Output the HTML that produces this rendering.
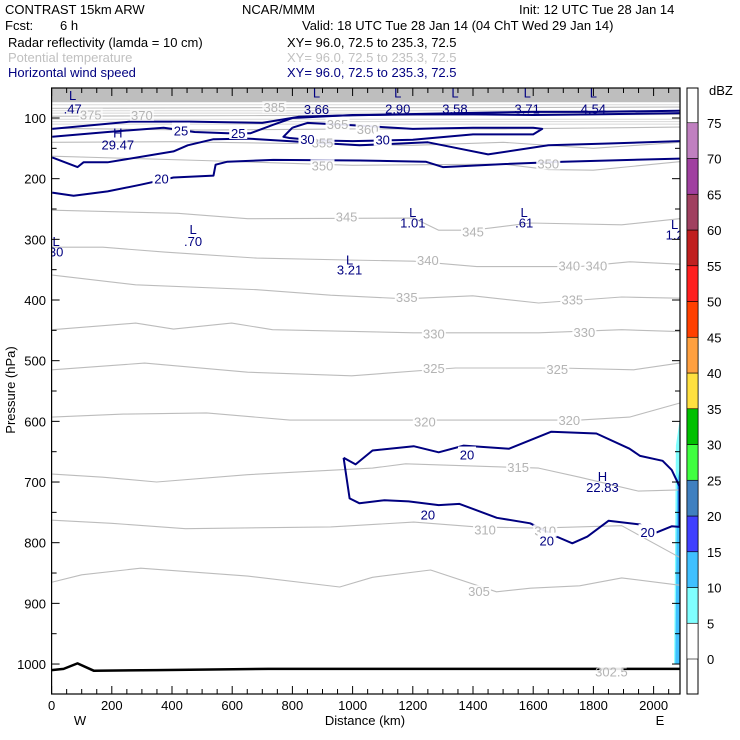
<!DOCTYPE html>
<html><head><meta charset="utf-8"><style>
body{margin:0;background:#fff;}
svg{display:block;font-family:"Liberation Sans",sans-serif;}
</style></head><body>
<svg id="chart" width="740" height="740" viewBox="0 0 740 740" xmlns="http://www.w3.org/2000/svg">
<g font-size="13">
<text x="5" y="14" fill="#000">CONTRAST 15km ARW</text>
<text x="242" y="14" fill="#000">NCAR/MMM</text>
<text x="519" y="14" fill="#000">Init: 12 UTC Tue 28 Jan 14</text>
<text x="5" y="30" fill="#000">Fcst:</text>
<text x="60" y="30" fill="#000">6 h</text>
<text x="302" y="30" fill="#000">Valid: 18 UTC Tue 28 Jan 14 (04 ChT Wed 29 Jan 14)</text>
<text x="8" y="47" fill="#000">Radar reflectivity (lamda = 10 cm)</text>
<text x="287" y="47" fill="#000">XY=  96.0, 72.5 to 235.3, 72.5</text>
<text x="8" y="62" fill="#c0c0c0">Potential temperature</text>
<text x="287" y="62" fill="#c0c0c0">XY=  96.0, 72.5 to 235.3, 72.5</text>
<text x="8" y="77" fill="#000080">Horizontal wind speed</text>
<text x="287" y="77" fill="#000080">XY=  96.0, 72.5 to 235.3, 72.5</text>
</g>
<g id="plot"></g>
<g id="axes"></g>
<g id="cbar"></g>
</svg>
<script>
// ---- data ----
const xTicks=[0,200,400,600,800,1000,1200,1400,1600,1800,2000];
const pTicks=[100,200,300,400,500,600,700,800,900,1000];
const dbzLevels=[0,5,10,15,20,25,30,35,40,45,50,55,60,65,70,75];
const dbzColors=["#ffffff","#80ffff","#40c0ff","#4040ff","#4080c0","#40ff40","#00c000","#ffe040","#ffa040","#ff4000","#ff2020","#c02020","#a04060","#a040a0","#c080c0"];
// potential temperature contours (km, hPa)
const th305km=[2,100,296,651,957,1066,1259,1478,1591,1754,1894,2086];
const th305p=[865,853,842,855,873,857,845,881,875,871,858,870];
const th310km=[2,199,445,927,1203,1412,1618,1894,2086];
const th310p=[763,768,777,774,766,774,776,772,824];
const th315km=[2,170,349,651,1066,1176,1618,1754,1950,2086];
const th315p=[687,692,700,688,677,670,677,692,715,713];
const th320km=[2,239,515,791,1203,1754,1920,2086];
const th320p=[593,588,586,598,598,598,593,570];
const th325km=[2,309,651,997,1342,1688,1934,2086];
const th325p=[515,504,519,525,512,512,515,504];
const th330km=[2,279,405,598,734,1203,1618,1894,2086];
const th330p=[449,438,448,438,449,454,454,449,452];
const th335km=[2,279,681,927,1176,1399,1618,1894,2086];
const th335p=[359,375,383,392,398,393,405,395,397];
const th340km=[2,170,375,681,983,1203,1412,1754,1920,2086];
const th340p=[313,313,321,331,334,336,345,345,337,341];
const th345km=[2,419,651,1203,1286,1399,1591,1894,2086];
const th345p=[252,257,266,265,285,285,273,276,266];
const th350km=[2,500,1000,1500,1650,1800,2086];
const th350p=[163,170,178,176,185,186,172];
const th355km=[2,400,800,1200,1500,1800,2086];
const th355p=[140,139,142,145,140,150,140];
const th360km=[2,500,1000,1500,2086];
const th360p=[117,120,118,118,115];
const th370km=[2,700,1400,2086];
const th370p=[97,96,95,94];
const th380km=[2,700,1400,2086];
const th380p=[84,83,83,82];
// wind speed contours (km, hPa)
const w20aKm=[2,73,186,296,405,538,545,584,737,1023,1243,1300,1500,1700,1850,2086];
const w20aP=[223,228,221,210,198,195,177,172,169,170,172,181,176,172,170,167];
const w20bKm=[2,86,106,186,405,452,538,651,850,1023,1250,1350,1450,1650,1850,2086];
const w20bP=[165,181,173,173,155,145,135,134,140,145,140,150,160,145,142,138];
const w25aKm=[2,186,372,475,585,661,737,800,1000,1200,1400,1600,1800,2086];
const w25aP=[131,123,116,123,125,125,111,100,95,94,94,95,94,92];
const w25bKm=[2,262,372,462,700,820,950,1150,1350,1600,1800,2086];
const w25bP=[118,106,106,106,108,98,96,94,92,90,90,88];
const w30Km=[800,770,790,880,1000,1200,1400,1600,1630,1600,1400,1200,1000,850,800];
const w30P=[116,131,133,137,138,136,127,127,118,116,116,118,112,108,116];
const w20cKm=[970,1010,1066,1203,1286,1369,1520,1660,1810,1920,1955,2030,2060,2086,2086,2060,2010,1955,1850,1780,1730,1673,1590,1479,1355,1286,1186,1106,1023,990,970];
const w20cP=[660,671,648,641,651,640,645,617,620,645,657,665,680,707,774,773,783,770,764,790,801,789,768,759,736,738,732,730,735,727,660];
const sfcKm=[0,40,86,140,350,720,2086];
const sfcP=[1010,1008,999,1011,1010,1008,1008];
const radarKm=[2068,2074,2086,2086,2068];
const radarP=[1000,640,600,1000,1000];
const radar2Km=[2072,2078,2086,2086,2072];
const radar2P=[1000,700,680,1000,1000];
const thLabels=[["385",740,82],["375",130,94],["370",300,95],["365",950,110],["360",1050,118],["355",900,140],["350",900,178],["350",1650,175],["345",980,262],["345",1400,287],["340",1250,334],["340",1720,343],["340",1810,343],["335",1180,395],["335",1730,399],["330",1270,455],["330",1770,453],["325",1270,512],["325",1680,514],["320",1240,600],["320",1720,598],["315",1550,675],["310",1440,778],["310",1640,780],["305",1420,880],["302.5",1860,1012]];
const hlLabels=[["L",70,62,".47",84],["H",220,124,"29.47",144],["L",880,58,"3.66",85],["L",1150,58,"2.90",84],["L",1340,58,"3.58",84],["L",1580,58,"3.71",84],["L",1800,58,"4.54",84],["L",1200,255,"1.01",272],["L",1570,255,".61",272],["L",2070,275,"1.2",292],["L",15,303,"30",320],["L",470,283,".70",303],["L",990,333,"3.21",350],["H",1830,690,"22.83",708]];
const w20Labels=[["20",365,198],["25",430,119],["25",620,123],["30",850,133],["30",1100,134],["20",1380,653],["20",1250,752],["20",1645,795],["20",1980,781]];
// ---- scales ----
const X0=51.6,KX=0.301,Y0=118,KY=0.6067;
const xS=km=>X0+km*KX;
const yS=p=>Y0+(p-100)*KY;
const NS="http://www.w3.org/2000/svg";
function mk(tag,attrs,parent){const e=document.createElementNS(NS,tag);for(const k in attrs)e.setAttribute(k,attrs[k]);parent.appendChild(e);return e;}
const plot=document.getElementById('plot'),axes=document.getElementById('axes'),cbar=document.getElementById('cbar');
const L=X0,R=680,T=88,B=694;
const cp=mk('clipPath',{id:'clip'},plot);
mk('rect',{x:L,y:T,width:R-L,height:B-T},cp);
const g=mk('g',{'clip-path':'url(#clip)'},plot);
const band=mk('rect',{x:L,y:T,width:R-L,height:yS(74)-T,fill:'#bebebe'},g);


function line(km,p,stroke,w,name){
  const d=km.map((k,i)=>(i?'L':'M')+xS(k).toFixed(1)+','+yS(p[i]).toFixed(1)).join('');
  const e=mk('path',{d:d,fill:'none',stroke:stroke,'stroke-width':w,'stroke-linejoin':'round'},g);
  
  
  return e;
}
function area(km,p,fill,name){
  const d=km.map((k,i)=>(i?'L':'M')+xS(k).toFixed(1)+','+yS(p[i]).toFixed(1)).join('')+'Z';
  const e=mk('path',{d:d,fill:fill,stroke:'none'},g);
  
  
}
area(radarKm,radarP,'#80ffff','radar-echo-5dbz');
area(radar2Km,radar2P,'#40c0ff','radar-echo-10dbz');
const th=[[th305km,th305p,'305'],[th310km,th310p,'310'],[th315km,th315p,'315'],[th320km,th320p,'320'],[th325km,th325p,'325'],[th330km,th330p,'330'],[th335km,th335p,'335'],[th340km,th340p,'340'],[th345km,th345p,'345'],[th350km,th350p,'350'],[th355km,th355p,'355'],[th360km,th360p,'360'],[th370km,th370p,'370'],[th380km,th380p,'380']];
th.forEach(t=>line(t[0],t[1],'#bcbcbc',1.1,'theta-contour-'+t[2]));
[78,88,92,102,106,110].forEach(p=>line([2,2086],[p,p],'#d8d8d8',1,'theta-contour-upper'));
line(sfcKm,sfcP,'#000',2.5,'surface-line');
const w=[[w20aKm,w20aP,'20a'],[w20bKm,w20bP,'20b'],[w25aKm,w25aP,'25a'],[w25bKm,w25bP,'25b'],[w30Km,w30P,'30'],[w20cKm,w20cP,'20c']];
w.forEach(t=>line(t[0],t[1],'#000080',2,'wind-contour-'+t[2]));
function txt(s,x,y,fill,parent,name,anchor){
  const e=mk('text',{x:x,y:y,fill:fill,'font-size':13,'text-anchor':anchor||'middle'},parent);
  e.textContent=s;
  
  
  return e;
}
thLabels.forEach(l=>{const x=xS(l[1]),y=yS(l[2]);mk('rect',{x:x-12,y:y-6,width:24,height:12,fill:'#fff','fill-opacity':l[2]<100?0.6:0.9},g);txt(l[0],x,y+5,'#b4b4b4',g,'theta-label');});
w20Labels.forEach(l=>{const x=xS(l[1]),y=yS(l[2]);mk('rect',{x:x-9,y:y-7,width:18,height:14,fill:'#fff'},g);txt(l[0],x,y+6,'#000080',g,'wind-label');});
hlLabels.forEach(l=>{txt(l[0],xS(l[1]),yS(l[2])+5,'#000080',g,'extremum-marker');txt(l[3],xS(l[1]),yS(l[4])+5,'#000080',g,'extremum-value');});
mk('rect',{x:L,y:T,width:R-L,height:B-T,fill:'none',stroke:'#000','stroke-width':1.2},axes);
for(let k=0;k<=2086;k+=50){const x=xS(k),len=k%200===0?8:5;mk('line',{x1:x,y1:B,x2:x,y2:B-len,stroke:'#000'},axes);mk('line',{x1:x,y1:T,x2:x,y2:T+len,stroke:'#000'},axes);}
xTicks.forEach(k=>txt(String(k),xS(k),710,'#000',axes,'x-tick-label'));
for(let p=100;p<=1000;p+=50){const y=yS(p),len=p%100===0?8:5;mk('line',{x1:L,y1:y,x2:L+len,y2:y,stroke:'#000'},axes);mk('line',{x1:R,y1:y,x2:R-len,y2:y,stroke:'#000'},axes);}
pTicks.forEach(p=>txt(String(p),46,yS(p)+5,'#000',axes,'y-tick-label','end'));
txt('Distance (km)',365,725,'#000',axes,'x-axis-title');
txt('W',80,725,'#000',axes,'west-label');
txt('E',660,725,'#000',axes,'east-label');
const yt=txt('Pressure (hPa)',0,0,'#000',axes,'y-axis-title');yt.setAttribute('transform','translate(15,390) rotate(-90)');
const CY0=659,CDY=35.75,CX=687,CW=11;
mk('rect',{x:CX,y:T,width:CW,height:B-T,fill:'#fff',stroke:'#000'},cbar);
dbzColors.forEach((c,i)=>{const r=mk('rect',{x:CX,y:CY0-(i+1)*CDY,width:CW,height:CDY,fill:c,stroke:'#000','stroke-width':0.6},cbar);});
dbzLevels.forEach((v,i)=>txt(String(v),707,CY0-i*CDY+5,'#000',cbar,'colorbar-label','start'));
txt('dBZ',709,95,'#000',cbar,'colorbar-title','start');
</script>
</body></html>
